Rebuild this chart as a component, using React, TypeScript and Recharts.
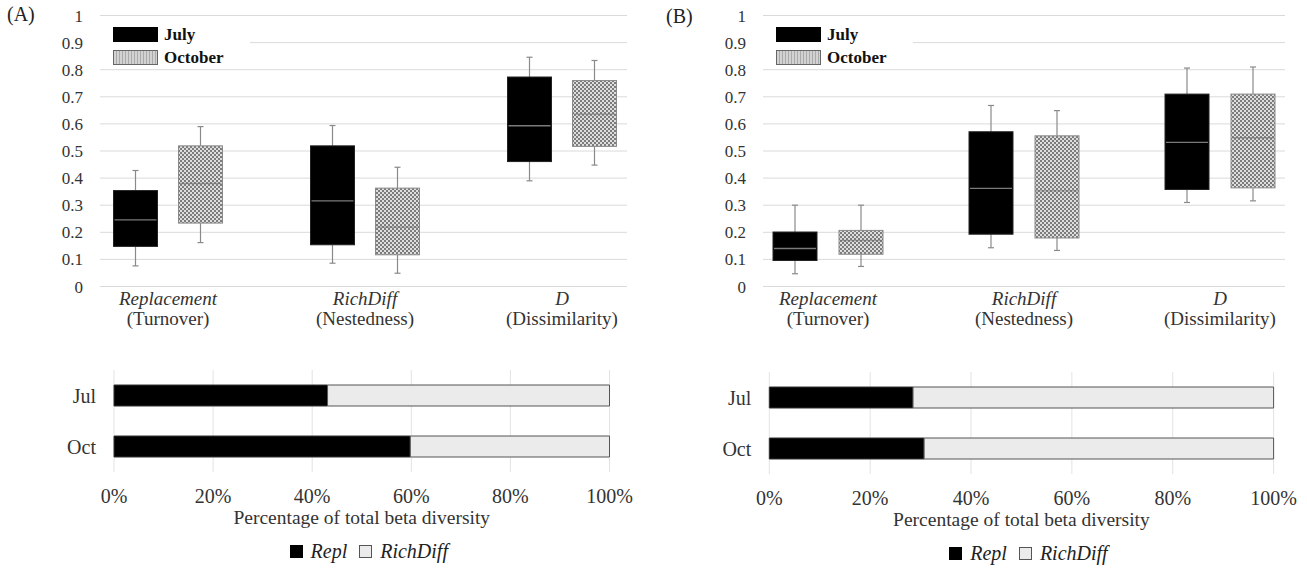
import React from 'react';
import { BarChart, Bar, XAxis, YAxis, CartesianGrid, Legend } from 'recharts';

const FONT = "'Liberation Serif', 'Times New Roman', serif";

// box plot categories
const categories = ['Replacement', 'RichDiff', 'D'];
const subtitles = ['(Turnover)', '(Nestedness)', '(Dissimilarity)'];
const yTicks = [0, 0.1, 0.2, 0.3, 0.4, 0.5, 0.6, 0.7, 0.8, 0.9, 1];

// [min, q1, median, q3, max] per category
const julyA = [
  [0.076, 0.148, 0.246, 0.354, 0.428],
  [0.086, 0.154, 0.316, 0.519, 0.594],
  [0.39, 0.461, 0.593, 0.773, 0.846],
];
const octA = [
  [0.162, 0.234, 0.38, 0.519, 0.59],
  [0.049, 0.117, 0.219, 0.363, 0.44],
  [0.448, 0.517, 0.636, 0.76, 0.834],
];
const julyB = [
  [0.047, 0.096, 0.14, 0.201, 0.3],
  [0.143, 0.193, 0.362, 0.571, 0.668],
  [0.31, 0.358, 0.532, 0.71, 0.806],
];
const octB = [
  [0.074, 0.119, 0.17, 0.207, 0.3],
  [0.133, 0.179, 0.353, 0.556, 0.649],
  [0.316, 0.364, 0.549, 0.71, 0.81],
];

// stacked percentage bars
const months = ['Jul', 'Oct'];
const pctTicks = [0, 20, 40, 60, 80, 100];
const replA = [43.1, 59.8];
const richA = [56.9, 40.2];
const replB = [28.5, 30.7];
const richB = [71.5, 69.3];

const boxRows = (jul: number[][], oct: number[][]) =>
  categories.map((c, i) => ({
    name: c,
    july: [jul[i][1], jul[i][3]],
    oct: [oct[i][1], oct[i][3]],
    jStats: jul[i],
    oStats: oct[i],
  }));

const pctRows = (repl: number[], rich: number[]) =>
  months.map((m, i) => ({ month: m, repl: repl[i], rich: rich[i] }));

const BoxShape = (props: any) => {
  const { x, y, width, height, payload, statsKey, boxStroke, medianStroke, medianOpacity, fill } = props;
  const s: number[] = payload[statsKey];
  const top = height >= 0 ? y : y + height;
  const h = Math.abs(height);
  const ppu = h / (s[3] - s[1]);
  const yOf = (v: number) => top + h - (v - s[1]) * ppu;
  const cx = x + width / 2;
  const wc = '#8a8a8a';
  return (
    <g>
      <line x1={cx} x2={cx} y1={yOf(s[4])} y2={top} stroke={wc} strokeWidth={1.2} />
      <line x1={cx - 3} x2={cx + 3} y1={yOf(s[4])} y2={yOf(s[4])} stroke={wc} strokeWidth={1.2} />
      <line x1={cx} x2={cx} y1={top + h} y2={yOf(s[0])} stroke={wc} strokeWidth={1.2} />
      <line x1={cx - 3} x2={cx + 3} y1={yOf(s[0])} y2={yOf(s[0])} stroke={wc} strokeWidth={1.2} />
      <rect x={x} y={top} width={width} height={h} fill={fill} stroke={boxStroke} strokeWidth={1} />
      <line
        x1={x + 1}
        x2={x + width - 1}
        y1={yOf(s[2])}
        y2={yOf(s[2])}
        stroke={medianStroke}
        strokeOpacity={medianOpacity}
        strokeWidth={1.4}
      />
    </g>
  );
};

const CatTick = (props: any) => {
  const { x, y, payload, index } = props;
  return (
    <g>
      <text x={x} y={y + 10.5} textAnchor="middle" fontStyle="italic" fontSize={19} fill="#333" fontFamily={FONT}>
        {payload.value}
      </text>
      <text x={x} y={y + 30} textAnchor="middle" fontSize={19} fill="#333" fontFamily={FONT}>
        {subtitles[index]}
      </text>
    </g>
  );
};

const BoxLegend = (props: any) => {
  const { payload } = props;
  return (
    <div style={{ background: '#fff', width: 150, height: 44, paddingTop: 3 }}>
      {(payload || []).map((e: any, i: number) => (
        <div key={i} style={{ display: 'flex', alignItems: 'center', height: 23, marginLeft: 13 }}>
          <svg width={45} height={15} style={{ display: 'block' }}>
            <rect x={0.5} y={0.5} width={44} height={14} fill={i === 0 ? '#000' : 'url(#octLegPat)'} stroke={i === 0 ? '#000' : '#666'} />
          </svg>
          <span style={{ marginLeft: 6, fontWeight: 'bold', fontSize: 17, color: '#111', fontFamily: FONT }}>{e.value}</span>
        </div>
      ))}
    </div>
  );
};

const PctLegend = (props: any) => {
  const { payload } = props;
  return (
    <div style={{ display: 'flex', justifyContent: 'center', alignItems: 'center', fontFamily: FONT, paddingLeft: 14 }}>
      {(payload || []).map((e: any, i: number) => (
        <div key={i} style={{ display: 'flex', alignItems: 'center', marginLeft: i ? 12 : 0 }}>
          <svg width={13} height={13} style={{ display: 'block' }}>
            <rect x={0.5} y={0.5} width={12} height={12} fill={e.color} stroke={i ? '#555' : '#000'} />
          </svg>
          <span style={{ marginLeft: 8, fontStyle: 'italic', fontSize: 20, color: '#222' }}>{e.value}</span>
        </div>
      ))}
    </div>
  );
};

const BoxPanel = ({ jul, oct, width, plotLeft, plotRight, padL, padR, barSize, barGap }: any) => {
  const data = boxRows(jul, oct);
  return (
    <BarChart
      width={width}
      height={340}
      data={data}
      margin={{ top: 15.5, right: width - plotRight, bottom: 3.5, left: plotLeft - 60 }}
      barSize={barSize}
      barGap={barGap}
    >
      <CartesianGrid vertical={false} stroke="#dadada" />
      <XAxis
        dataKey="name"
        axisLine={false}
        tickLine={false}
        height={50}
        interval={0}
        padding={{ left: padL, right: padR }}
        tick={<CatTick />}
      />
      <YAxis
        domain={[0, 1]}
        ticks={yTicks}
        width={60}
        axisLine={false}
        tickLine={false}
        tickMargin={11}
        tickFormatter={(v: number) => String(+v.toFixed(1))}
        tick={{ fontSize: 17, fill: '#333', fontFamily: FONT }}
      />
      <Legend
        layout="horizontal"
        verticalAlign="middle"
        align="center"
        content={<BoxLegend />}
        wrapperStyle={{ position: 'absolute', left: plotLeft, top: 20, width: 150, height: 44 }}
      />
      <Bar
        name="July"
        dataKey="july"
        fill="#000"
        isAnimationActive={false}
        shape={(p: any) => (
          <BoxShape {...p} statsKey="jStats" boxStroke="#222" medianStroke="#7a7a7a" medianOpacity={1} fill="#000" />
        )}
      />
      <Bar
        name="October"
        dataKey="oct"
        fill="#aaa"
        isAnimationActive={false}
        shape={(p: any) => (
          <BoxShape {...p} statsKey="oStats" boxStroke="#8a8a8a" medianStroke="#6f6f6f" medianOpacity={0.6} fill="url(#octPat)" />
        )}
      />
    </BarChart>
  );
};

const PctPanel = ({ repl, rich, width, plotLeft, plotRight }: any) => {
  const data = pctRows(repl, rich);
  return (
    <BarChart
      layout="vertical"
      width={width}
      height={209}
      data={data}
      barSize={21}
      margin={{ top: 10, right: width - plotRight, bottom: 67, left: plotLeft - 60 }}
    >
      <CartesianGrid horizontal={false} stroke="#e3e3e3" />
      <XAxis
        type="number"
        domain={[0, 100]}
        ticks={pctTicks}
        axisLine={false}
        tickLine={false}
        tickMargin={11}
        height={30}
        tickFormatter={(v: number) => `${v}%`}
        tick={{ fontSize: 20, fill: '#333', fontFamily: FONT }}
        label={{ value: 'Percentage of total beta diversity', position: 'bottom', offset: 8, fontSize: 19.5, fill: '#333', fontFamily: FONT }}
      />
      <YAxis
        type="category"
        dataKey="month"
        width={60}
        axisLine={false}
        tickLine={false}
        tickMargin={12}
        tick={{ fontSize: 20, fill: '#333', fontFamily: FONT }}
      />
      <Legend
        layout="horizontal"
        verticalAlign="middle"
        align="center"
        content={<PctLegend />}
        wrapperStyle={{ position: 'absolute', left: plotLeft, top: 180, width: plotRight - plotLeft, height: 24 }}
      />
      <Bar name="Repl" dataKey="repl" stackId="s" fill="#000" stroke="#333" isAnimationActive={false} />
      <Bar name="RichDiff" dataKey="rich" stackId="s" fill="#ebebeb" stroke="#555" isAnimationActive={false} />
    </BarChart>
  );
};

export default function App() {
  return (
    <div style={{ position: 'absolute', left: 0, top: 0, width: 1307, height: 569, background: '#fff', fontFamily: FONT }}>
      <svg width={0} height={0} style={{ position: 'absolute' }}>
        <defs>
          <pattern id="octPat" width={4} height={4} patternUnits="userSpaceOnUse">
            <rect width={4} height={4} fill="#dedede" />
            <rect width={2} height={2} fill="#7c7c7c" />
            <rect x={2} y={2} width={2} height={2} fill="#7c7c7c" />
          </pattern>
          <pattern id="octLegPat" width={3} height={3} patternUnits="userSpaceOnUse">
            <rect width={3} height={3} fill="#d2d2d2" />
            <rect width={1} height={3} fill="#aaaaaa" />
          </pattern>
        </defs>
      </svg>

      <div style={{ position: 'absolute', left: 7, top: 3, fontSize: 20, color: '#222' }}>(A)</div>
      <div style={{ position: 'absolute', left: 666, top: 5, fontSize: 20, color: '#222' }}>(B)</div>

      <div style={{ position: 'absolute', left: 0, top: 0 }}>
        <BoxPanel jul={julyA} oct={octA} width={650} plotLeft={100} plotRight={627} padL={-30.5} padR={-33.5} barSize={44} barGap={21} />
      </div>
      <div style={{ position: 'absolute', left: 660, top: 0 }}>
        <BoxPanel jul={julyB} oct={octB} width={647} plotLeft={103} plotRight={625} padL={-33} padR={-33} barSize={44} barGap={22} />
      </div>

      <div style={{ position: 'absolute', left: 0, top: 360 }}>
        <PctPanel repl={replA} rich={richA} width={650} plotLeft={114} plotRight={609.5} />
      </div>
      <div style={{ position: 'absolute', left: 660, top: 362 }}>
        <PctPanel repl={replB} rich={richB} width={647} plotLeft={109.3} plotRight={613.6} />
      </div>
    </div>
  );
}
